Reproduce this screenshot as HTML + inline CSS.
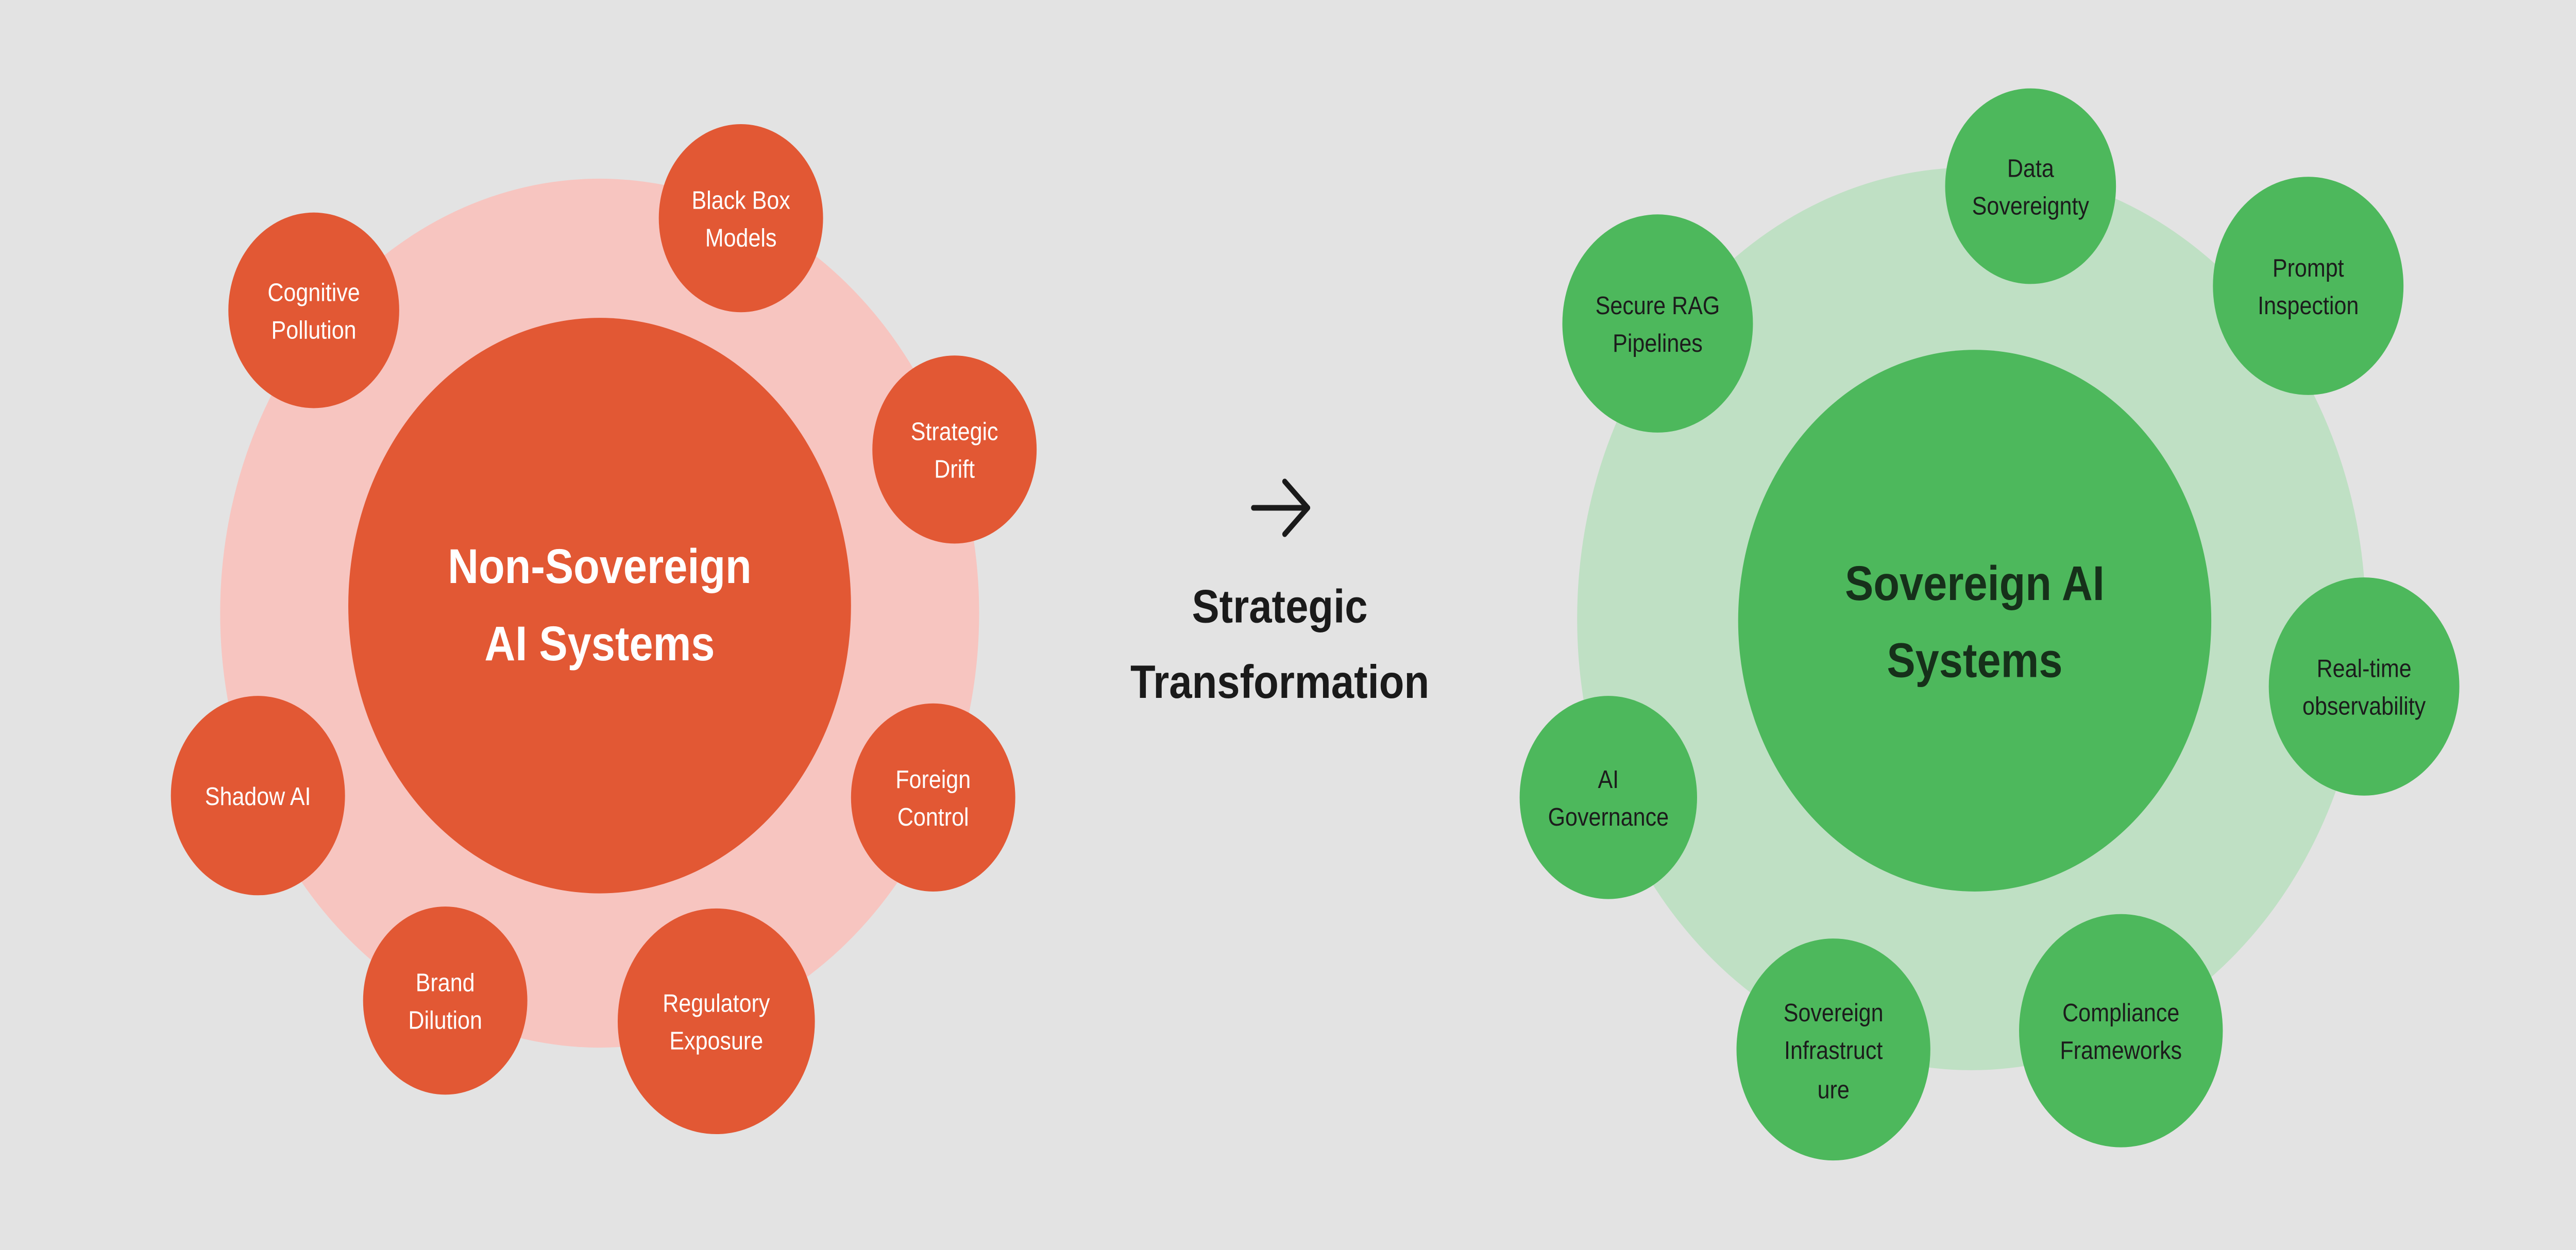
<!DOCTYPE html>
<html><head><meta charset="utf-8"><style>
html,body{margin:0;padding:0;background:#e3e3e3;width:100%;height:100%;overflow:hidden;}
svg{display:block;position:fixed;left:0;top:0;width:100vw;height:100vh;}
text{font-family:"Liberation Sans","DejaVu Sans",sans-serif;text-anchor:middle;}
.s{font-size:13.5px;fill:#ffffff;}
.g{font-size:13.5px;fill:#1c1c1c;}
</style></head><body>
<svg viewBox="0 0 1568 664.6" preserveAspectRatio="none" xmlns="http://www.w3.org/2000/svg">
<rect width="1568" height="664.6" fill="#e3e3e3"/>
<circle cx="365" cy="326" r="231" fill="#f7c5c0"/>
<circle cx="365" cy="322" r="153" fill="#e25834"/>
<text x="365" y="310" font-size="26" font-weight="bold" fill="#fff">Non-Sovereign</text>
<text x="365" y="351" font-size="26" font-weight="bold" fill="#fff">AI Systems</text>
<circle cx="191" cy="165" r="52" fill="#e25834"/>
<text class="s" x="191" y="160">Cognitive</text><text class="s" x="191" y="180">Pollution</text>
<circle cx="451" cy="116" r="50" fill="#e25834"/>
<text class="s" x="451" y="111">Black Box</text><text class="s" x="451" y="131">Models</text>
<circle cx="581" cy="239" r="50" fill="#e25834"/>
<text class="s" x="581" y="234">Strategic</text><text class="s" x="581" y="254">Drift</text>
<circle cx="568" cy="424" r="50" fill="#e25834"/>
<text class="s" x="568" y="419">Foreign</text><text class="s" x="568" y="439">Control</text>
<circle cx="436" cy="543" r="60" fill="#e25834"/>
<text class="s" x="436" y="538">Regulatory</text><text class="s" x="436" y="558">Exposure</text>
<circle cx="271" cy="532" r="50" fill="#e25834"/>
<text class="s" x="271" y="527">Brand</text><text class="s" x="271" y="547">Dilution</text>
<circle cx="157" cy="423" r="53" fill="#e25834"/>
<text class="s" x="157" y="428">Shadow AI</text>
<g stroke="#1a1a1a" stroke-width="3" fill="none" stroke-linecap="round" stroke-linejoin="round">
<line x1="763" y1="270" x2="796" y2="270"/>
<polyline points="782,256 796,270 782,284"/>
</g>
<text x="779" y="331" font-size="25" font-weight="bold" fill="#1a1a1a">Strategic</text>
<text x="779" y="371" font-size="25" font-weight="bold" fill="#1a1a1a">Transformation</text>
<circle cx="1200" cy="329" r="240" fill="#bfe0c4"/>
<circle cx="1202" cy="330" r="144" fill="#4db85c"/>
<text x="1202" y="319" font-size="26" font-weight="bold" fill="#16301a">Sovereign AI</text>
<text x="1202" y="360" font-size="26" font-weight="bold" fill="#16301a">Systems</text>
<circle cx="1236" cy="99" r="52" fill="#4db85c"/>
<text class="g" x="1236" y="94">Data</text><text class="g" x="1236" y="114">Sovereignty</text>
<circle cx="1405" cy="152" r="58" fill="#4db85c"/>
<text class="g" x="1405" y="147">Prompt</text><text class="g" x="1405" y="167">Inspection</text>
<circle cx="1009" cy="172" r="58" fill="#4db85c"/>
<text class="g" x="1009" y="167">Secure RAG</text><text class="g" x="1009" y="187">Pipelines</text>
<circle cx="1439" cy="365" r="58" fill="#4db85c"/>
<text class="g" x="1439" y="360">Real-time</text><text class="g" x="1439" y="380">observability</text>
<circle cx="979" cy="424" r="54" fill="#4db85c"/>
<text class="g" x="979" y="419">AI</text><text class="g" x="979" y="439">Governance</text>
<circle cx="1116" cy="558" r="59" fill="#4db85c"/>
<text class="g" x="1116" y="543">Sovereign</text><text class="g" x="1116" y="563">Infrastruct</text><text class="g" x="1116" y="584">ure</text>
<circle cx="1291" cy="548" r="62" fill="#4db85c"/>
<text class="g" x="1291" y="543">Compliance</text><text class="g" x="1291" y="563">Frameworks</text>
</svg>
</body></html>
